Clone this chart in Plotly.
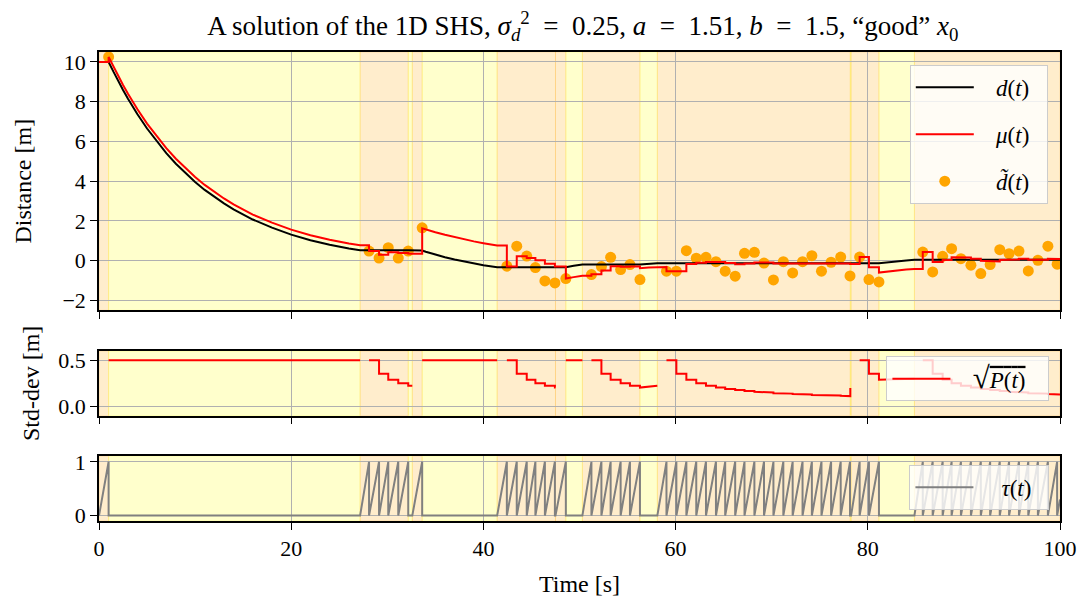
import plotly.graph_objects as go

FONT = "Liberation Serif"

# ---------------- data ----------------
# mode spans: 'meas' (orange background) / 'idle' (yellow background)
span_t0 = [0.0, 1.0, 27.17, 32.18, 32.6, 33.63, 41.43, 47.5, 48.58, 50.3, 56.29, 58.1, 78.18, 78.26, 81.16, 84.85]
span_mode = ['meas', 'idle', 'meas', 'idle', 'meas', 'idle', 'meas', 'meas', 'idle', 'meas', 'idle', 'meas', 'idle', 'meas', 'idle', 'meas']
t_end = 100.0

# measurement times and measured distances d~(t)
meas_t = [1.0, 28.1, 29.14, 30.1, 31.14, 32.18, 33.63,
          42.44, 43.47, 44.51, 45.41, 46.4, 47.44, 48.58,
          51.24, 52.28, 53.24, 54.28, 55.25, 56.29,
          59.05, 60.08, 61.12, 62.15, 63.16, 64.2, 65.16, 66.2, 67.17, 68.2,
          69.2, 70.18, 71.21, 72.18, 73.21, 74.18, 75.18, 76.18, 77.18, 78.15,
          79.15, 80.12, 81.16,
          85.72, 86.75, 87.79, 88.72, 89.69, 90.73, 91.76, 92.73, 93.73, 94.7,
          95.73, 96.7, 97.7, 98.74, 99.7]
meas_v = [10.25, 0.48, 0.13, 0.65, 0.13, 0.48, 1.65,
          -0.28, 0.73, 0.23, -0.35, -1.02, -1.12, -0.9,
          -0.7, -0.3, 0.17, -0.45, -0.2, -0.95,
          -0.53, -0.53, 0.5, 0.12, 0.17, -0.05, -0.53, -0.78, 0.37, 0.42,
          -0.12, -0.97, -0.05, -0.62, -0.05, 0.25, -0.53, -0.08, 0.18, -0.77,
          0.18, -0.95, -1.07,
          0.43, -0.57, 0.22, 0.6, 0.1, -0.23, -0.65, -0.2, 0.55, 0.35,
          0.48, -0.52, 0.02, 0.73, -0.18]

# estimate mu(t) right after each measurement
mu_after = [10.25, 0.49, 0.3, 0.42, 0.38, 0.36, 1.63,
            -0.3, 0.22, 0.13, 0.02, -0.16, -0.3, -0.9,
            -0.68, -0.49, -0.28, -0.31, -0.29, -0.38,
            -0.53, -0.53, -0.17, -0.11, -0.07, -0.07, -0.12, -0.18, -0.14, -0.09,
            -0.09, -0.14, -0.13, -0.16, -0.15, -0.13, -0.15, -0.15, -0.14, -0.17,
            0.18, -0.33, -0.6,
            0.43, -0.07, 0.03, 0.17, 0.16, 0.09, -0.01, -0.04, 0.03, 0.06,
            0.1, 0.05, 0.05, 0.09, 0.08]

# sqrt(P) right after each measurement
sqrtp_after = [0.5, 0.5, 0.353, 0.288, 0.25, 0.223, 0.5,
               0.5, 0.354, 0.289, 0.25, 0.224, 0.205, 0.5,
               0.5, 0.354, 0.289, 0.25, 0.224, 0.205,
               0.5, 0.354, 0.289, 0.25, 0.224, 0.204, 0.189, 0.177, 0.167, 0.158,
               0.151, 0.144, 0.139, 0.134, 0.129, 0.125, 0.121, 0.118, 0.115, 0.112,
               0.5, 0.354, 0.289,
               0.5, 0.354, 0.289, 0.25, 0.224, 0.204, 0.189, 0.177, 0.167, 0.158,
               0.151, 0.144, 0.139, 0.134, 0.129]
# visible pieces of sqrt(P): (first meas index, stop index, tail points)
sqrtp_pieces = [
    (0, 1, [(27.17, 0.5)]),
    (1, 6, [(32.6, 0.223)]),
    (6, 7, [(41.43, 0.5)]),
    (7, 13, [(47.5, 0.205)]),
    (13, 14, [(50.3, 0.5)]),
    (14, 20, [(58.1, 0.225)]),
    (20, 40, [(78.18, 0.112), (78.18, 0.2)]),
    (40, 43, [(84.85, 0.3)]),
    (43, 58, [(100.0, 0.129)]),
]

# samples of d(t) and mu(t) while moving (idle / yellow spans)
drift_t = [
    [1.0, 1.5, 2, 2.5, 3, 3.5, 4, 5, 6, 7, 8, 9, 10, 11, 12, 13, 14, 15, 16, 18, 20, 22, 24, 26, 27.17],
    [32.18, 32.6],
    [33.63, 34, 35, 36, 37, 38, 39, 40, 41.43],
    [48.58, 49.4, 50.3],
    [56.29, 57.2, 58.1],
    [81.16, 82, 83, 84, 84.85],
]
drift_mu = [
    [10.25, 9.76, 9.28, 8.84, 8.41, 8.01, 7.62, 6.90, 6.25, 5.66, 5.13, 4.65, 4.21, 3.81, 3.45, 3.13, 2.83, 2.57, 2.32, 1.91, 1.56, 1.28, 1.05, 0.86, 0.77],
    [0.36, 0.345],
    [1.63, 1.57, 1.43, 1.3, 1.18, 1.07, 0.97, 0.88, 0.76],
    [-0.9, -0.83, -0.76],
    [-0.38, -0.35, -0.32],
    [-0.6, -0.55, -0.5, -0.45, -0.42],
]
drift_d = [
    [10.0, 9.51, 9.03, 8.59, 8.16, 7.76, 7.37, 6.65, 6.0, 5.41, 4.88, 4.4, 3.96, 3.56, 3.2, 2.88, 2.58, 2.32, 2.07, 1.66, 1.31, 1.03, 0.8, 0.61, 0.52],
    [0.52, 0.505],
    [0.505, 0.445, 0.3, 0.175, 0.06, -0.05, -0.145, -0.235, -0.33],
    [-0.33, -0.26, -0.19],
    [-0.19, -0.16, -0.13],
    [-0.13, -0.08, -0.03, 0.01, 0.05],
]
mu_start = 10.0
d_start = 10.0

# ---------------- build paths ----------------
span_t1 = span_t0[1:] + [t_end]

# mu(t): holds, jumps at measurements, drifts in idle spans
events = [(t, 0, i) for i, t in enumerate(meas_t)]
for k, ts in enumerate(drift_t):
    for j, t in enumerate(ts):
        events.append((t, 1, (k, j)))
events.sort(key=lambda e: (e[0], e[1]))
mu_x, mu_y = [0.0], [mu_start]
cur = mu_start
for t, kind, ref in events:
    if kind == 0:
        mu_x += [t, t]
        mu_y += [cur, mu_after[ref]]
        cur = mu_after[ref]
    else:
        k, j = ref
        cur = drift_mu[k][j]
        mu_x.append(t)
        mu_y.append(cur)
mu_x.append(t_end)
mu_y.append(cur)

# d(t)
d_x, d_y = [0.0], [d_start]
for ts, vs in zip(drift_t, drift_d):
    d_x += ts
    d_y += vs
d_x.append(t_end)
d_y.append(d_y[-1])

# tau(t) sawtooth
tau_x, tau_y = [], []
for s0, s1, mode in zip(span_t0, span_t1, span_mode):
    if mode == 'idle':
        tau_x += [s0, s1]
        tau_y += [0, 0]
    else:
        start = s0
        tau_x.append(s0)
        tau_y.append(0)
        for m in meas_t:
            if s0 < m <= s1 + 1e-9:
                tau_x += [m, m]
                tau_y += [1, 0]
                start = m
        if s1 - start > 1e-9:
            tau_x.append(s1)
            tau_y.append(min(1.0, s1 - start))
            if s1 < t_end:
                tau_x.append(s1)
                tau_y.append(0)

# sqrt(P)
p_x, p_y = [], []
for a, b, tail in sqrtp_pieces:
    p_x.append(meas_t[a])
    p_y.append(sqrtp_after[a])
    for i in range(a + 1, b):
        p_x += [meas_t[i], meas_t[i]]
        p_y += [sqrtp_after[i - 1], sqrtp_after[i]]
    for tt, vv in tail:
        if tt > p_x[-1] and vv != p_y[-1] and len(tail) > 1:
            p_x.append(tt)
            p_y.append(p_y[-1])
        p_x.append(tt)
        p_y.append(vv)
    p_x.append(None)
    p_y.append(None)

# ---------------- figure ----------------
fig = go.Figure()

NB = '&nbsp;'
fig.add_trace(go.Scatter(x=meas_t, y=meas_v, mode='markers',
                         name=NB * 3 + '<i>d̃</i>(<i>t</i>)' + NB * 2,
                         marker=dict(color='#FFA500', size=11, line=dict(width=0)),
                         xaxis='x', yaxis='y', legend='legend', legendrank=3, legendgroup='g3'))
fig.add_trace(go.Scatter(x=d_x, y=d_y, mode='lines',
                         name=NB * 3 + '<i>d</i>(<i>t</i>)' + NB * 2,
                         line=dict(color='black', width=2),
                         xaxis='x', yaxis='y', legend='legend', legendrank=1, legendgroup='g1'))
fig.add_trace(go.Scatter(x=mu_x, y=mu_y, mode='lines',
                         name=NB * 3 + '<i>μ</i>(<i>t</i>)' + NB * 2,
                         line=dict(color='red', width=2),
                         xaxis='x', yaxis='y', legend='legend', legendrank=2, legendgroup='g2'))
fig.add_trace(go.Scatter(x=p_x, y=p_y, mode='lines', connectgaps=False,
                         name=NB * 3 + "<span style='font-size:31px'>√</span>"
                              "<span style='text-decoration:overline'><i>P</i>(<i>t</i>)</span>" + NB * 3,
                         line=dict(color='red', width=2),
                         xaxis='x2', yaxis='y2', legend='legend2'))
fig.add_trace(go.Scatter(x=tau_x, y=tau_y, mode='lines',
                         name=NB * 4 + '<i>τ</i>(<i>t</i>)' + NB * 2,
                         line=dict(color='#808080', width=2),
                         xaxis='x3', yaxis='y3', legend='legend3'))

# background spans
shapes = []
for s0, s1, mode in zip(span_t0, span_t1, span_mode):
    col = 'rgba(255,165,0,0.2)' if mode == 'meas' else 'rgba(255,255,0,0.2)'
    for xr, yr in (('x', 'y domain'), ('x2', 'y2 domain'), ('x3', 'y3 domain')):
        shapes.append(dict(type='rect', xref=xr, yref=yr, x0=s0, x1=s1, y0=0, y1=1,
                           fillcolor=col, line=dict(color=col, width=1), layer='below'))

TICKFONT = dict(family=FONT, size=22, color='black')
axis_common = dict(range=[0, 100], tickvals=[0, 20, 40, 60, 80, 100],
                   showgrid=True, gridcolor='#b0b0b0', gridwidth=1.3,
                   showline=True, mirror=True, linecolor='black', linewidth=1.5,
                   ticks='outside', ticklen=7, tickwidth=1.3, tickcolor='black',
                   zeroline=False, tickfont=TICKFONT)

yax_common = dict(showgrid=True, gridcolor='#b0b0b0', gridwidth=1.3,
                  showline=True, mirror=True, linecolor='black', linewidth=1.5,
                  ticks='outside', ticklen=7, tickwidth=1.3, tickcolor='black',
                  zeroline=False, tickfont=TICKFONT)

legend_common = dict(bgcolor='rgba(255,255,255,0.8)', bordercolor='#cccccc', borderwidth=1,
                     font=dict(family=FONT, size=23, color='black'),
                     xanchor='right', yanchor='top', itemwidth=58, tracegroupgap=14)

TITLEFONT = dict(family=FONT, size=24, color='black')
SP = '\u2002'
fig.update_layout(
    width=1089, height=605,
    margin=dict(l=99, r=25, t=52, b=81),
    paper_bgcolor='white', plot_bgcolor='white',
    font=dict(family=FONT, size=20, color='black'),
    title=dict(text='A solution of the 1D SHS, <i>σ</i><sub><i>d</i></sub><sup>2</sup>' + SP + '=' + SP + '0.25, '
                    '<i>a</i>' + SP + '=' + SP + '1.51, <i>b</i>' + SP + '=' + SP + '1.5, “good” <i>x</i><sub>0</sub>',
               x=0.5352, xanchor='center', y=0.957, yanchor='middle', yref='container',
               font=dict(family=FONT, size=27, color='black')),
    xaxis=dict(axis_common, anchor='y', showticklabels=False),
    xaxis2=dict(axis_common, anchor='y2', matches='x', showticklabels=False),
    xaxis3=dict(axis_common, anchor='y3', matches='x',
                title=dict(text='Time [s]', font=TITLEFONT, standoff=15)),
    yaxis=dict(yax_common, domain=[0.4492, 1.0], range=[-2.5, 10.5],
               tickvals=[-2, 0, 2, 4, 6, 8, 10],
               title=dict(text='Distance [m]', font=TITLEFONT, standoff=24)),
    yaxis2=dict(yax_common, domain=[0.2246, 0.3623], range=[-0.1, 0.6],
                tickvals=[0.0, 0.5], tickformat='.1f',
                title=dict(text='Std-dev [m]', font=TITLEFONT, standoff=12)),
    yaxis3=dict(yax_common, domain=[0.0, 0.1377], range=[-0.1, 1.1],
                tickvals=[0, 1]),
    legend=dict(legend_common, x=0.9873, y=0.9725),
    legend2=dict(legend_common, x=0.989, y=0.351),
    legend3=dict(legend_common, x=0.989, y=0.120),
    shapes=shapes,
    showlegend=True,
)

fig.write_html("out.html", config={'displayModeBar': False},
               post_script="document.body.style.margin='0px';")
